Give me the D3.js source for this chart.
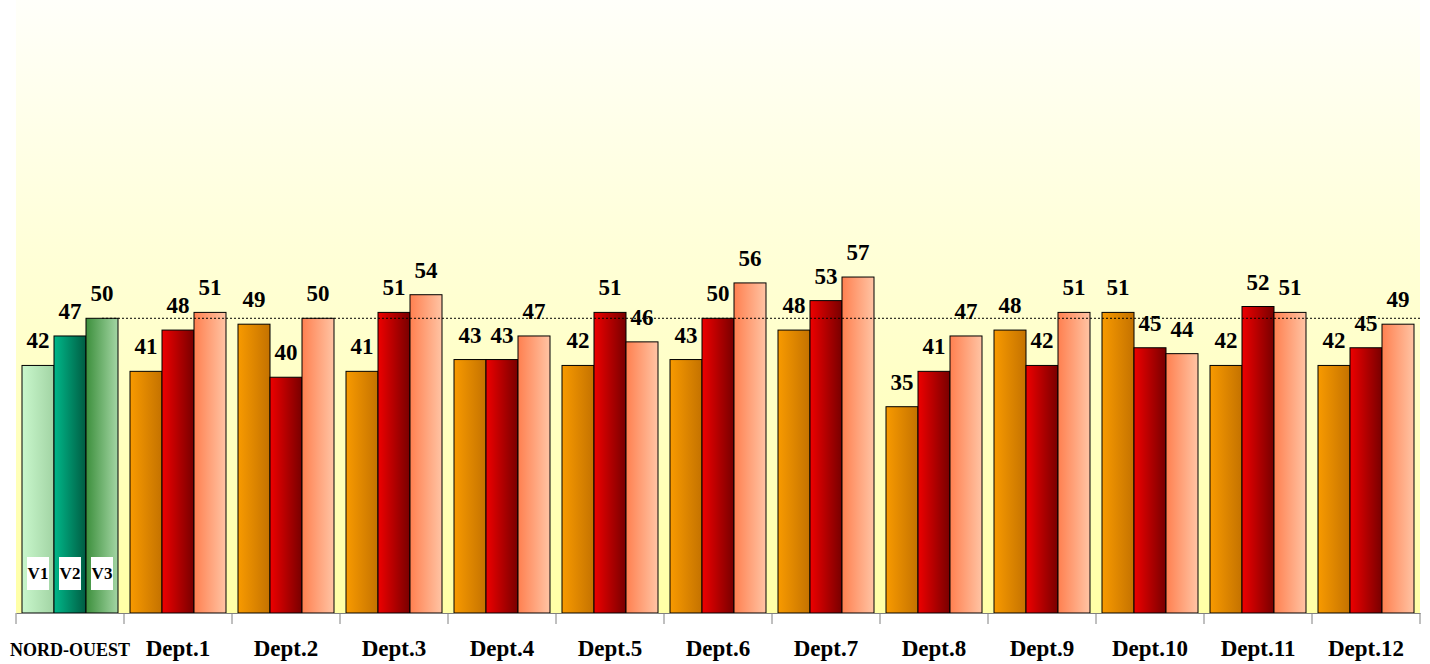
<!DOCTYPE html>
<html>
<head>
<meta charset="utf-8">
<script src="https://cdn.jsdelivr.net/npm/d3@7"></script>
<style>
  body { margin: 0; background: #fff; }
  svg { display: block; }
  .val { font-family: "Liberation Serif", "Times New Roman", serif; font-weight: bold; font-size: 23px; fill: #000; }
  .cat { font-family: "Liberation Serif", "Times New Roman", serif; font-weight: bold; font-size: 23px; fill: #000; }
</style>
</head>
<body>
<div id="chart"></div>
<script>
// data
var categories = ["NORD-OUEST", "Dept.1", "Dept.2", "Dept.3", "Dept.4", "Dept.5", "Dept.6",
                  "Dept.7", "Dept.8", "Dept.9", "Dept.10", "Dept.11", "Dept.12"];
var seriesNames = ["V1", "V2", "V3"];
var v1 = [42, 41, 49, 41, 43, 42, 43, 48, 35, 48, 51, 42, 42];
var v2 = [47, 48, 40, 51, 43, 51, 50, 53, 41, 42, 45, 52, 45];
var v3 = [50, 51, 50, 54, 47, 46, 56, 57, 47, 51, 44, 51, 49];
var refValue = 50;

var svgWidth = 1430;
var svgHeight = 664;
var margin = { top: 0, right: 10, bottom: 51, left: 16 };
var width = svgWidth - margin.left - margin.right;
var height = svgHeight - margin.top - margin.bottom;

var svg = d3.select("#chart").append("svg")
    .attr("width", svgWidth)
    .attr("height", svgHeight);

var defs = svg.append("defs");

// background gradient
var bg = defs.append("linearGradient").attr("id", "bg")
    .attr("x1", 0).attr("y1", 0).attr("x2", 0).attr("y2", 1);
bg.append("stop").attr("offset", "0%").attr("stop-color", "#fffffa");
bg.append("stop").attr("offset", "100%").attr("stop-color", "#ffffa6");

// bar gradients (left -> right)
var grads = {
  g1: ["#c9f7cc", "#a2d4a4"],
  g2: ["#00b88a", "#005c42"],
  g3: ["#3c8f3c", "#a4d6a4"],
  o: ["#f89a00", "#c47200"],
  r: ["#ee0000", "#780000"],
  s: ["#ff8050", "#ffc4a4"]
};
Object.keys(grads).forEach(function (k) {
  var g = defs.append("linearGradient").attr("id", "grad-" + k)
      .attr("x1", 0).attr("y1", 0).attr("x2", 1).attr("y2", 0);
  g.append("stop").attr("offset", "0%").attr("stop-color", grads[k][0]);
  g.append("stop").attr("offset", "100%").attr("stop-color", grads[k][1]);
});

var chartGroup = svg.append("g")
    .attr("transform", `translate(${margin.left}, ${margin.top})`);

chartGroup.append("rect")
    .attr("x", 0).attr("y", 0)
    .attr("width", width).attr("height", height)
    .attr("fill", "url(#bg)");

// scales
var x0 = d3.scaleBand().domain(categories).range([0, width]).paddingInner(0).paddingOuter(0);
var x1 = d3.scaleBand().domain(seriesNames).range([6, x0.bandwidth() - 6]).padding(0);
var y = d3.scaleLinear().domain([0, 104]).range([height, 0]);

var rows = categories.map(function (c, i) {
  return { cat: c, idx: i, vals: [v1[i], v2[i], v3[i]] };
});

var groups = chartGroup.selectAll(".grp")
    .data(rows)
    .enter().append("g")
    .attr("class", "grp")
    .attr("transform", d => `translate(${x0(d.cat)},0)`);

function fillFor(d) {
  if (d.group === 0) return ["url(#grad-g1)", "url(#grad-g2)", "url(#grad-g3)"][d.s];
  return ["url(#grad-o)", "url(#grad-r)", "url(#grad-s)"][d.s];
}

var bars = groups.selectAll("rect")
    .data(d => d.vals.map((v, s) => ({ v: v, s: s, group: d.idx, name: seriesNames[s] })))
    .enter().append("rect")
    .attr("x", d => x1(d.name))
    .attr("y", d => y(d.v))
    .attr("width", x1.bandwidth())
    .attr("height", d => height - y(d.v))
    .attr("fill", fillFor)
    .attr("stroke", "#000")
    .attr("stroke-width", 1);

// value labels
groups.selectAll(".val")
    .data(d => d.vals.map((v, s) => ({ v: v, s: s, name: seriesNames[s] })))
    .enter().append("text")
    .attr("class", "val")
    .attr("x", d => x1(d.name) + x1.bandwidth() / 2)
    .attr("y", d => y(d.v) - 17)
    .attr("text-anchor", "middle")
    .text(d => d.v);

// reference dotted line
var firstGroup = x0(categories[0]);
chartGroup.append("line")
    .attr("x1", firstGroup + x1("V3") + x1.bandwidth() / 2)
    .attr("x2", width)
    .attr("y1", y(refValue))
    .attr("y2", y(refValue))
    .attr("stroke", "#000")
    .attr("stroke-width", 1)
    .attr("stroke-dasharray", "2,2");

// series tags inside first group
var tags = chartGroup.append("g")
    .attr("transform", `translate(${firstGroup},0)`)
    .selectAll(".tag")
    .data(seriesNames)
    .enter().append("g")
    .attr("transform", d => `translate(${x1(d) + x1.bandwidth() / 2}, ${height - 40})`);
tags.append("rect")
    .attr("x", -11).attr("y", -16)
    .attr("width", 22).attr("height", 33)
    .attr("fill", "#fff");
tags.append("text")
    .attr("text-anchor", "middle")
    .attr("dy", "0.35em")
    .style("font-family", "'Liberation Serif', 'Times New Roman', serif")
    .style("font-weight", "bold")
    .style("font-size", "17px")
    .text(d => d);

// x axis
var bottomAxis = d3.axisBottom(x0).tickSize(0).tickFormat("");
var axisG = chartGroup.append("g")
    .attr("transform", `translate(0, ${height})`)
    .call(bottomAxis);
axisG.select(".domain").attr("stroke", "#808080");

chartGroup.selectAll(".tickline")
    .data(categories.concat(["end"]))
    .enter().append("line")
    .attr("x1", (d, i) => i * x0.step())
    .attr("x2", (d, i) => i * x0.step())
    .attr("y1", height)
    .attr("y2", height + 11)
    .attr("stroke", "#808080");

chartGroup.selectAll(".cat")
    .data(categories)
    .enter().append("text")
    .attr("class", "cat")
    .attr("x", d => x0(d) + x0.bandwidth() / 2)
    .attr("y", height + 43)
    .attr("text-anchor", "middle")
    .style("font-size", (d, i) => i === 0 ? "18px" : "23px")
    .text(d => d);
</script>
</body>
</html>
